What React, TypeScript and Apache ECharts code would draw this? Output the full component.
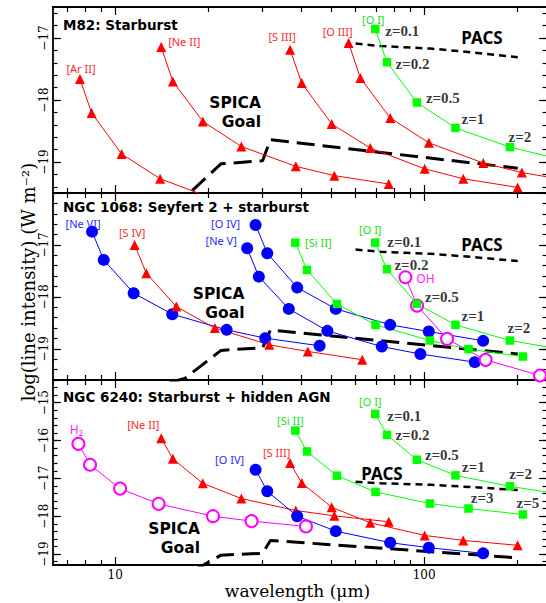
import React, { useEffect, useRef } from 'react';
import * as echarts from 'echarts';

// ---------- axis ranges / ticks ----------
const X_RANGE_UM = [6.29, 250];
const X_MAJOR_TICKS = [10, 100];
const X_MINOR_TICKS = [7, 8, 9, 20, 30, 40, 50, 60, 70, 80, 90, 200];
const Y_RANGE_P1 = [-19.5, -16.5];
const Y_RANGE_P2 = [-19.6, -16.0];
const Y_RANGE_P3 = [-19.29, -14.4];
const Y_MAJOR_P1 = [-19, -18, -17];
const Y_MAJOR_P2 = [-19, -18, -17];
const Y_MAJOR_P3 = [-19, -18, -17, -16, -15];

// ---------- Panel 1: M82 ----------
const m82ArII_wl = [7.69, 8.39, 10.49, 13.98, 20.97];
const m82ArII_v = [-17.66, -18.21, -18.87, -19.27, -19.6];
const m82NeII_wl = [14.09, 15.37, 19.22, 25.62, 38.43, 51.24, 76.86];
const m82NeII_v = [-17.145, -17.70, -18.345, -18.75, -19.07, -19.22, -19.355];
const m82SIII_wl = [36.83, 40.18, 50.22, 66.96, 100.44, 133.92, 200.88];
const m82SIII_v = [-17.19, -17.726, -18.387, -18.774, -19.11, -19.27, -19.41];
const m82OIII_wl = [56.99, 62.17, 77.72, 103.62, 155.43, 207.24, 310.86];
const m82OIII_v = [-17.08, -17.645, -18.29, -18.69, -19.016, -19.17, -19.32];
const m82OI_wl = [69.5, 75.82, 94.77, 126.36, 189.54, 252.72];
const m82OI_v = [-16.855, -17.39, -18.04, -18.45, -18.76, -18.91];

// ---------- Panel 2: NGC 1068 ----------
const n1068NeVI_wl = [8.415, 9.18, 11.475, 15.3, 22.95, 30.6, 45.9];
const n1068NeVI_v = [-16.744, -17.288, -17.929, -18.333, -18.635, -18.794, -18.942];
const n1068SIV_wl = [11.56, 12.61, 15.77, 21.02, 31.53, 42.04, 63.06];
const n1068SIV_v = [-17.0, -17.544, -18.187, -18.60, -18.923, -19.05, -19.21];
const n1068OIV_wl = [28.48, 31.07, 38.84, 51.78, 77.67, 103.56, 155.34];
const n1068OIV_v = [-16.615, -17.16, -17.821, -18.231, -18.538, -18.667, -18.846];
const n1068NeV_wl = [26.75, 29.18, 36.48, 48.64, 72.96, 97.28, 145.92];
const n1068NeV_v = [-17.063, -17.61, -18.231, -18.654, -18.956, -19.10, -19.256];
const n1068SiII_wl = [38.3, 41.78, 52.23, 69.64, 104.46, 139.28, 208.92];
const n1068SiII_v = [-16.956, -17.481, -18.135, -18.538, -18.84, -19.006, -19.148];
const n1068OI_wl = [69.5, 75.82, 94.77, 126.36, 189.54, 252.72];
const n1068OI_v = [-16.956, -17.467, -18.135, -18.538, -18.84, -18.967];
const n1068OH_wl = [87.0, 94.9, 118.65, 158.2, 237.3];
const n1068OH_v = [-17.621, -18.167, -18.808, -19.212, -19.513];

// ---------- Panel 3: NGC 6240 ----------
const n6240H2_wl = [7.6, 8.29, 10.37, 13.82, 20.73, 27.64, 41.46];
const n6240H2_v = [-16.087, -16.64, -17.271, -17.674, -18.0, -18.13, -18.271];
const n6240NeII_wl = [14.09, 15.37, 19.22, 25.62, 38.43, 51.24, 76.86];
const n6240NeII_v = [-15.937, -16.482, -17.132, -17.534, -17.85, -17.99, -18.147];
const n6240OIV_wl = [28.48, 31.07, 38.84, 51.78, 77.67, 103.56, 155.34];
const n6240OIV_v = [-16.771, -17.342, -18.0, -18.395, -18.7, -18.832, -18.982];
const n6240SIII_wl = [36.83, 40.18, 50.22, 66.96, 100.44, 133.92, 200.88];
const n6240SIII_v = [-16.595, -17.121, -17.763, -18.174, -18.508, -18.64, -18.77];
const n6240SiII_wl = [38.3, 41.78, 52.23, 69.64, 104.46, 139.28, 208.92];
const n6240SiII_v = [-15.737, -16.289, -16.929, -17.358, -17.666, -17.797, -17.955];
const n6240OI_wl = [69.5, 75.82, 94.77, 126.36, 189.54, 252.72];
const n6240OI_v = [-15.297, -15.85, -16.508, -16.921, -17.21, -17.37];

// ---------- sensitivity curves (same in every panel) ----------
const spica_wl = [15.0, 16.8, 22.0, 30.0, 31.8, 201];
const spica_v = [-19.65, -19.57, -19.03, -18.98, -18.64, -19.10];
const pacs_wl = [60, 72.4, 105, 142, 201];
const pacs_v = [-17.09, -17.13, -17.17, -17.23, -17.31];

// redshift labels
const zLabels = ['z=0.1', 'z=0.2', 'z=0.5', 'z=1', 'z=2'];
const zLabelsHigh = ['z=3', 'z=5'];

const SERIF = '"DejaVu Serif", serif';
const SANS = '"Noto Sans", sans-serif';

const KIND: Record<string, any> = {
  red: { symbol: 'triangle', size: 10, color: '#ff0000', text: '#ff2a2a' },
  blue: { symbol: 'circle', size: 12, color: '#0000ff', text: '#2a2aff' },
  green: { symbol: 'rect', size: 8.5, color: '#00ff00', text: '#22dd22' },
  mag: { symbol: 'emptyCircle', size: 12, color: '#ff00ff', text: '#ff22ff' },
};

const L = (v: number) => Math.log10(v);

function lineSeries(gi: number, wl: number[], v: number[], kind: string, name: string, off: number[], fs = 11) {
  const k = KIND[kind];
  return {
    type: 'line',
    xAxisIndex: gi * 4,
    yAxisIndex: gi * 4,
    silent: true,
    clip: true,
    symbol: k.symbol,
    symbolSize: k.size,
    itemStyle: { color: k.color, borderWidth: kind === 'mag' ? 1.2 : 0 },
    lineStyle: { color: k.color, width: 1 },
    emphasis: { disabled: true },
    label: { show: false },
    data: wl.map((w, i) => {
      const item: any = { value: [L(w), v[i]] };
      if (i === 0) {
        item.label = {
          show: true, formatter: name, position: 'inside', offset: off,
          color: k.text, fontSize: fs, fontFamily: SANS, textBorderWidth: 0,
        };
      }
      return item;
    }),
  };
}

function zSeries(gi: number, wl: number[], v: number[], idx: number[], texts: string[], offs: number[][]) {
  return {
    type: 'scatter',
    xAxisIndex: gi * 4,
    yAxisIndex: gi * 4,
    silent: true,
    symbol: 'circle',
    symbolSize: 1,
    itemStyle: { color: 'rgba(0,0,0,0)' },
    emphasis: { disabled: true },
    data: idx.map((id, j) => ({
      value: [L(wl[id]), v[id]],
      label: {
        show: true, formatter: texts[j], position: 'inside', offset: offs[j],
        color: '#000', fontSize: 15, fontWeight: 'bold', fontFamily: '"Liberation Serif", serif',
        textBorderWidth: 0,
      },
    })),
  };
}

function curveSeries(gi: number, wl: number[], v: number[], dash: number[], width: number) {
  return {
    type: 'line',
    xAxisIndex: gi * 4,
    yAxisIndex: gi * 4,
    silent: true,
    clip: true,
    symbol: 'none',
    lineStyle: { color: '#000', width, type: dash },
    emphasis: { disabled: true },
    data: wl.map((w, i) => [L(w), v[i]]),
  };
}

function minorY(range: number[]) {
  const out: number[] = [];
  const start = Math.ceil(range[0] / 0.2 - 1e-6);
  const end = Math.floor(range[1] / 0.2 + 1e-6);
  for (let k = start; k <= end; k++) out.push(Math.round(k * 0.2 * 100) / 100);
  return out;
}

function buildAxes(gi: number, yRange: number[], yMajor: number[], showX: boolean) {
  const xs: any[] = [];
  const ys: any[] = [];
  const xMin = L(X_RANGE_UM[0]);
  const xMax = L(X_RANGE_UM[1]);
  for (const pos of ['bottom', 'top']) {
    xs.push({
      type: 'value', gridIndex: gi, position: pos, min: xMin, max: xMax,
      axisLine: { show: true, onZero: false, lineStyle: { color: '#000', width: 1.8 } },
      axisTick: { show: true, inside: true, length: 8, customValues: X_MAJOR_TICKS.map(L), lineStyle: { color: '#000', width: 1.2 } },
      axisLabel: {
        show: pos === 'bottom' && showX, customValues: X_MAJOR_TICKS.map(L),
        formatter: (val: number) => String(Math.round(Math.pow(10, val))),
        fontFamily: SERIF, fontSize: 12, color: '#000', margin: 4,
      },
      splitLine: { show: false },
      silent: true,
    });
    xs.push({
      type: 'value', gridIndex: gi, position: pos, min: xMin, max: xMax,
      axisLine: { show: false, onZero: false },
      axisTick: { show: true, inside: true, length: 5, customValues: X_MINOR_TICKS.map(L), lineStyle: { color: '#000', width: 1.2 } },
      axisLabel: { show: false },
      splitLine: { show: false },
      silent: true,
    });
  }
  for (const pos of ['left', 'right']) {
    ys.push({
      type: 'value', gridIndex: gi, position: pos, min: yRange[0], max: yRange[1],
      axisLine: { show: true, onZero: false, lineStyle: { color: '#000', width: 1.8 } },
      axisTick: { show: true, inside: true, length: 8, customValues: yMajor, lineStyle: { color: '#000', width: 1.2 } },
      axisLabel: {
        show: pos === 'left', customValues: yMajor, rotate: 90,
        formatter: (val: number) => '\u2212' + Math.abs(Math.round(val)),
        fontFamily: SERIF, fontSize: 12, color: '#000', margin: 3,
      },
      splitLine: { show: false },
      silent: true,
    });
    ys.push({
      type: 'value', gridIndex: gi, position: pos, min: yRange[0], max: yRange[1],
      axisLine: { show: false, onZero: false },
      axisTick: { show: true, inside: true, length: 4.5, customValues: minorY(yRange), lineStyle: { color: '#000', width: 1.2 } },
      axisLabel: { show: false },
      splitLine: { show: false },
      silent: true,
    });
  }
  return { xs, ys };
}

function txt(x: number, y: number, text: string, font: string, align = 'left', extra: any = {}) {
  return {
    type: 'text', x, y, silent: true, z: 100,
    ...extra,
    style: { text, font, fill: '#000', align, verticalAlign: 'middle', ...(extra.style || {}) },
  };
}

export default function App() {
  const ref = useRef<HTMLDivElement>(null);
  useEffect(() => {
    if (!ref.current) return;
    const chart = echarts.init(ref.current, undefined, { renderer: 'svg' });
    const a1 = buildAxes(0, Y_RANGE_P1, Y_MAJOR_P1, false);
    const a2 = buildAxes(1, Y_RANGE_P2, Y_MAJOR_P2, false);
    const a3 = buildAxes(2, Y_RANGE_P3, Y_MAJOR_P3, true);

    const series: any[] = [];
    for (let gi = 0; gi < 3; gi++) {
      series.push(curveSeries(gi, spica_wl, spica_v, [18, 8], 3));
      series.push(curveSeries(gi, pacs_wl, pacs_v, [7, 5], 2.5));
    }
    // Panel 1
    series.push(lineSeries(0, m82ArII_wl, m82ArII_v, 'red', '[Ar II]', [1, -10]));
    series.push(lineSeries(0, m82NeII_wl, m82NeII_v, 'red', '[Ne II]', [23, -5]));
    series.push(lineSeries(0, m82SIII_wl, m82SIII_v, 'red', '[S III]', [-8, -13]));
    series.push(lineSeries(0, m82OIII_wl, m82OIII_v, 'red', '[O III]', [-11, -11]));
    series.push(lineSeries(0, m82OI_wl, m82OI_v, 'green', '[O I]', [-2, -10]));
    series.push(zSeries(0, m82OI_wl, m82OI_v, [0, 1, 2, 3, 4], zLabels,
      [[27, 1.5], [25.5, 1.5], [26, -4.5], [17.5, -8.5], [10, -10.5]]));
    // Panel 2
    series.push(lineSeries(1, n1068NeVI_wl, n1068NeVI_v, 'blue', '[Ne VI]', [-9, -8.5]));
    series.push(lineSeries(1, n1068SIV_wl, n1068SIV_v, 'red', '[S IV]', [-2.5, -12]));
    series.push(lineSeries(1, n1068OIV_wl, n1068OIV_v, 'blue', '[O IV]', [-30, -1.5]));
    series.push(lineSeries(1, n1068NeV_wl, n1068NeV_v, 'blue', '[Ne V]', [-26, -8]));
    series.push(lineSeries(1, n1068OH_wl, n1068OH_v, 'mag', 'OH', [20, 1.5], 12));
    series.push(lineSeries(1, n1068SiII_wl, n1068SiII_v, 'green', '[Si II]', [23, 0]));
    series.push(lineSeries(1, n1068OI_wl, n1068OI_v, 'green', '[O I]', [-5, -13]));
    series.push(zSeries(1, n1068OI_wl, n1068OI_v, [0, 1, 2, 3, 4], zLabels,
      [[29, -1], [24.5, -4.5], [25, -6.7], [17.5, -9], [9, -12.4]]));
    // Panel 3
    series.push(lineSeries(2, n6240H2_wl, n6240H2_v, 'mag', 'H\u2082', [-2, -14], 12));
    series.push(lineSeries(2, n6240NeII_wl, n6240NeII_v, 'red', '[Ne II]', [-18, -14]));
    series.push(lineSeries(2, n6240OIV_wl, n6240OIV_v, 'blue', '[O IV]', [-26, -10]));
    series.push(lineSeries(2, n6240SIII_wl, n6240SIII_v, 'red', '[S III]', [-13.5, -10.5]));
    series.push(lineSeries(2, n6240SiII_wl, n6240SiII_v, 'green', '[Si II]', [-5, -10]));
    series.push(lineSeries(2, n6240OI_wl, n6240OI_v, 'green', '[O I]', [-5, -12]));
    series.push(zSeries(2, n6240OI_wl, n6240OI_v, [0, 1, 2, 3, 4], zLabels,
      [[29, 2], [25.5, 0], [25, -5], [18, -8.4], [10.7, -12.7]]));
    series.push(zSeries(2, n6240SiII_wl, n6240SiII_v, [5, 6], zLabelsHigh,
      [[13.7, -10.7], [5, -11.7]]));

    const titleFont = 'bold 13.5px "DejaVu Sans", sans-serif';
    const bigFont = 'bold 17px "Noto Sans", sans-serif';
    const goalFont = 'bold 15.5px "DejaVu Sans", sans-serif';
    const graphic: any[] = [
      txt(63, 25, 'M82: Starburst', titleFont),
      txt(63, 206.5, 'NGC 1068: Seyfert 2 + starburst', titleFont),
      txt(63, 397, 'NGC 6240: Starburst + hidden AGN', titleFont),
      txt(261, 102.5, 'SPICA', goalFont, 'right'),
      txt(261, 122, 'Goal', goalFont, 'right'),
      txt(244.5, 293.5, 'SPICA', goalFont, 'right'),
      txt(244.5, 313, 'Goal', goalFont, 'right'),
      txt(200, 528.5, 'SPICA', goalFont, 'right'),
      txt(200, 548, 'Goal', goalFont, 'right'),
      txt(482, 37, 'PACS', bigFont, 'center'),
      txt(482, 244, 'PACS', bigFont, 'center'),
      txt(382, 473, 'PACS', bigFont, 'center'),
      txt(297.5, 591, 'wavelength (\u03bcm)', '17px "DejaVu Serif", serif', 'center'),
      txt(28, 282, 'log(line intensity) (W m\u207b\u00b2)', '18px "DejaVu Serif", serif', 'center', { rotation: Math.PI / 2 }),
    ];

    chart.setOption({
      animation: false,
      backgroundColor: '#fff',
      grid: [
        { left: 53, top: 7, width: 494, height: 186, outerBoundsMode: 'none', containLabel: false },
        { left: 53, top: 193, width: 494, height: 187, outerBoundsMode: 'none', containLabel: false },
        { left: 53, top: 380, width: 494, height: 185, outerBoundsMode: 'none', containLabel: false },
      ],
      xAxis: [...a1.xs, ...a2.xs, ...a3.xs],
      yAxis: [...a1.ys, ...a2.ys, ...a3.ys],
      series,
      graphic,
    });
    return () => chart.dispose();
  }, []);
  return <div ref={ref} style={{ position: 'absolute', left: 0, top: 0, width: 546, height: 603 }} />;
}
